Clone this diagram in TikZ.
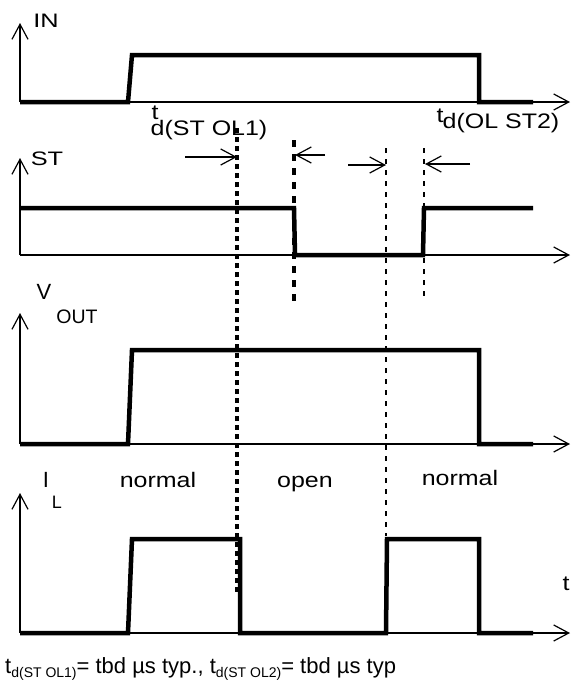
\documentclass[tikz,border=0pt]{standalone}
\usepackage{fontspec}
\setmainfont{Liberation Sans}
\newfontfamily\widefont[FakeStretch=1.3]{Liberation Sans}
\newfontfamily\midfont[FakeStretch=1.19]{Liberation Sans}
\usetikzlibrary{arrows.meta}
\tikzstyle{signal} = [line width=4.5pt, line join=miter]
\tikzstyle{axis} = [line width=1.2pt, ->]
\tikzstyle{marker} = [line width=1.2pt, ->]
\tikzstyle{bigdots} = [line width=3.5pt, dash pattern=on 5pt off 4pt]
\tikzstyle{coarsedots} = [line width=4pt, dash pattern=on 7pt off 7pt]
\tikzstyle{thindash} = [line width=1.8pt, dash pattern=on 5pt off 6pt]
\tikzstyle{lbl} = [inner sep=0pt, anchor=base, font=\widefont\fontsize{19.5}{22}\selectfont]
\tikzstyle{state} = [inner sep=0pt, anchor=base, font=\midfont\fontsize{21}{24}\selectfont]
\tikzstyle{plain} = [inner sep=0pt, anchor=base]
\newcommand{\tsub}[1]{\raisebox{-4pt}{\fontsize{14}{16}\selectfont #1}}

\begin{document}
\begin{tikzpicture}[x=1pt, y=-1pt, >={Straight Barb[length=15pt, width=16pt]}]
  \useasboundingbox (0,0) rectangle (575,681);

  % axes
  \draw [axis] (20,102) -- (20,23);
  \draw [axis] (20,102) -- (570,102);
  \draw [axis] (20,255) -- (20,158);
  \draw [axis] (20,255) -- (570,255);
  \draw [axis] (20,444) -- (20,313);
  \draw [axis] (20,444) -- (570,444);
  \draw [axis] (20,633) -- (20,493);
  \draw [axis] (20,633) -- (570,633);

  % axis labels
  \node [lbl] (in) at (46,27) {IN};
  \node [lbl] (st) at (47,165) {ST};
  \node [plain, font=\fontsize{22}{24}\selectfont] (v) at (44,299) {V};
  \node [plain, font=\fontsize{19.5}{22}\selectfont] (out) at (77,323) {OUT};
  \node [plain, font=\fontsize{22}{24}\selectfont] (i) at (46,487) {I};
  \node [plain, font=\fontsize{18}{20}\selectfont] (l) at (57,508) {L};
  \node [state] (t) at (566,590) {t};

  % signals
  \draw [signal] (20,102) -- (128,102) -- (132,55) -- (479,55) -- (479,102) -- (533,102);
  \draw [signal] (20,208) -- (294,208) -- (295,255) -- (423,255) -- (424,208) -- (533,208);
  \draw [signal] (20,444) -- (128,444) -- (132,350) -- (479,350) -- (479,444) -- (533,444);
  \draw [signal] (20,633) -- (128,633) -- (132,539) -- (240,539) -- (240,633)
    -- (386,633) -- (387,539) -- (479,539) -- (479,633) -- (533,633);

  % time markers
  \coordinate (m1top) at (237,128);
  \coordinate (m1bot) at (237,592);
  \coordinate (m2top) at (294,140);
  \coordinate (m2bot) at (294,302);
  \coordinate (m3top) at (386,148);
  \coordinate (m3bot) at (386,536);
  \coordinate (m4top) at (424,148);
  \coordinate (m4bot) at (424,296);
  \draw [bigdots] (m1top) -- (m1bot);
  \draw [coarsedots] (m2top) -- (m2bot);
  \draw [thindash] (m3top) -- (m3bot);
  \draw [thindash] (m4top) -- (m4bot);

  \coordinate (a1) at (185,157);
  \coordinate (a2) at (325,155);
  \coordinate (a3) at (348,165);
  \coordinate (a4) at (470,164);
  \draw [marker] (a1) -- (237,157);
  \draw [marker] (a2) -- (295,155);
  \draw [marker] (a3) -- (386,165);
  \draw [marker] (a4) -- (425,164);

  % delay labels
  \node [state] (t1) at (155,119) {t};
  \node [state] (d1) at (209,135) {d(ST OL1)};
  \node [state] (t2) at (440,122) {t};
  \node [state] (d2) at (501,128) {d(OL ST2)};

  % states
  \node [state] (norm1) at (158,487) {normal};
  \node [state] (open) at (305,487) {open};
  \node [state] (norm2) at (460,485) {normal};

  \node [plain, anchor=base west, font=\fontsize{22}{24}\selectfont] (note) at (5,673)
    {t\tsub{d(ST OL1)}= tbd µs typ., t\tsub{d(ST OL2)}= tbd µs typ};
\end{tikzpicture}
\end{document}
